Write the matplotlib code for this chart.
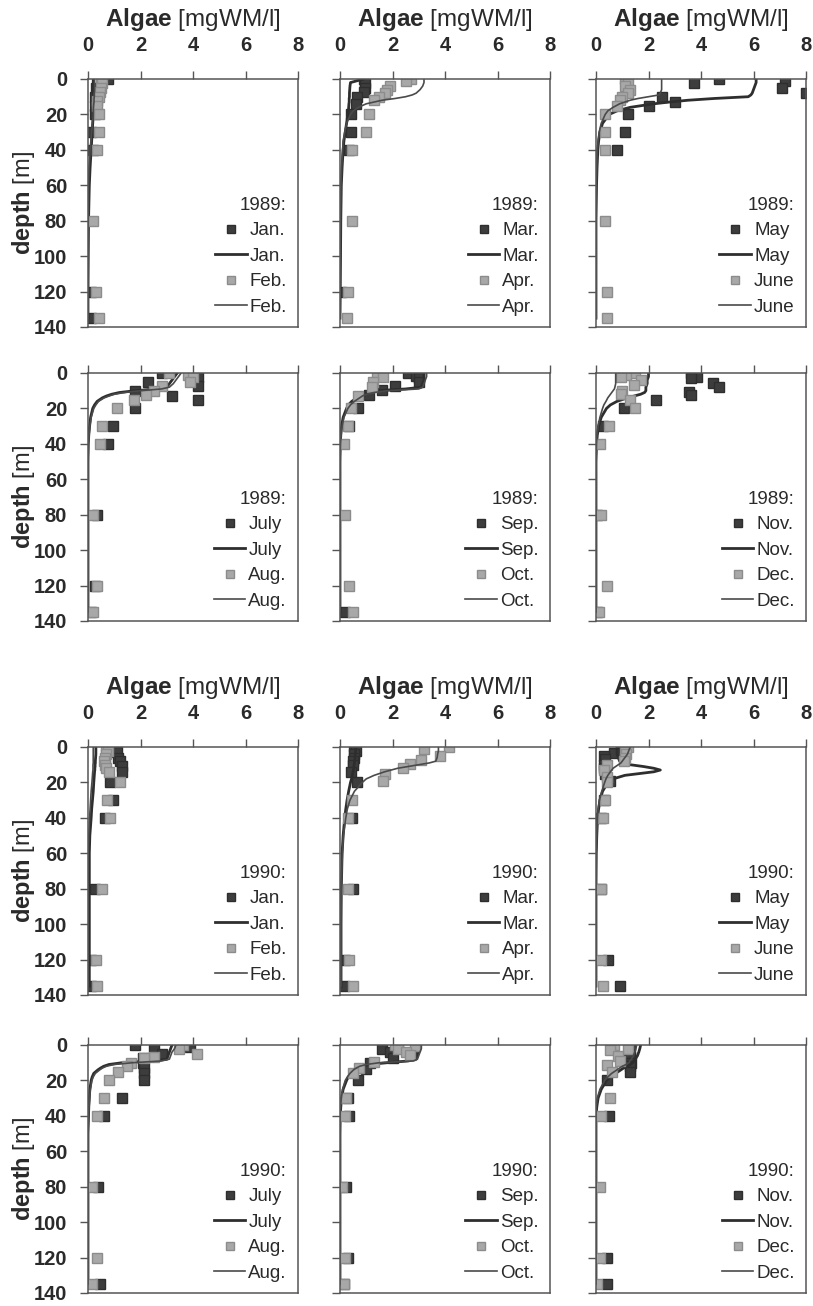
import numpy as np
import matplotlib.pyplot as plt

plt.rcParams['font.family'] = ['Liberation Sans', 'DejaVu Sans']
plt.rcParams['mathtext.fontset'] = 'custom'
plt.rcParams['mathtext.bf'] = 'Liberation Sans:bold'
plt.rcParams['mathtext.rm'] = 'Liberation Sans'

# depth grid of the model profiles (m)
model_depth = [0, 2, 4, 6, 8, 9, 10, 11, 12, 13, 14, 16, 18, 20, 25, 30, 35, 40, 50, 60, 80, 100, 120, 135]

# ---- 1989 ----
jan89_d = [0, 5, 10, 15, 20, 30, 40, 120, 135]
jan89_x = [0.75, 0.3, 0.25, 0.25, 0.25, 0.1, 0.2, 0.1, 0.1]
jan89_m = [0.2, 0.2, 0.2, 0.2, 0.2, 0.2, 0.2, 0.2, 0.2, 0.2, 0.2, 0.2, 0.2, 0.2, 0.18, 0.16, 0.14, 0.12, 0.08, 0.05, 0.02, 0.01, 0, 0]
feb89_d = [0, 2.5, 5, 7.5, 10, 12.5, 15, 20, 30, 40, 80, 120, 135]
feb89_x = [0.5, 0.55, 0.5, 0.45, 0.4, 0.35, 0.35, 0.4, 0.4, 0.35, 0.2, 0.3, 0.4]
feb89_m = [0.25, 0.25, 0.25, 0.25, 0.24, 0.24, 0.24, 0.23, 0.23, 0.23, 0.22, 0.21, 0.2, 0.2, 0.17, 0.14, 0.11, 0.08, 0.04, 0.02, 0.01, 0, 0, 0]

mar89_d = [0, 2.5, 5, 7.5, 10, 14, 20, 30, 40, 120]
mar89_x = [0.9, 0.95, 0.95, 0.9, 0.65, 0.6, 0.4, 0.4, 0.35, 0.05]
mar89_m = [0.9, 0.4, 0.38, 0.37, 0.36, 0.36, 0.36, 0.35, 0.35, 0.35, 0.34, 0.33, 0.32, 0.3, 0.25, 0.2, 0.15, 0.12, 0.08, 0.05, 0.03, 0.02, 0.01, 0]
apr89_d = [0, 1, 4, 6, 8, 10, 12, 20, 30, 40, 80, 120, 135]
apr89_x = [2.7, 2.5, 1.9, 1.8, 1.7, 1.5, 1.3, 1.1, 1.0, 0.45, 0.45, 0.3, 0.25]
apr89_m = [3.2, 3.2, 3.15, 3.05, 2.9, 2.75, 2.5, 2.1, 1.6, 1.3, 1.0, 0.7, 0.5, 0.4, 0.25, 0.18, 0.12, 0.1, 0.06, 0.04, 0.02, 0.01, 0, 0]

may89_d = [0, 1, 2.5, 5, 8, 10, 13, 15, 20, 30, 40]
may89_x = [4.7, 7.2, 3.75, 7.1, 8.0, 2.5, 3.0, 2.0, 1.2, 1.1, 0.8]
may89_m = [6.1, 6.1, 6.05, 6.0, 5.95, 5.9, 5.8, 4.5, 3.5, 2.8, 2.2, 1.3, 0.8, 0.5, 0.25, 0.15, 0.1, 0.07, 0.04, 0.02, 0, 0, 0, 0]
jun89_d = [0, 2, 4, 6, 8, 10, 12, 15, 20, 30, 40, 80, 120, 135]
jun89_x = [1.1, 1.2, 1.1, 1.3, 1.2, 1.0, 0.9, 0.8, 0.35, 0.35, 0.35, 0.35, 0.4, 0.4]
jun89_m = [2.5, 2.5, 2.5, 2.5, 2.45, 2.4, 2.0, 1.6, 1.3, 1.1, 0.9, 0.65, 0.45, 0.35, 0.2, 0.12, 0.08, 0.05, 0.03, 0.01, 0, 0, 0, 0]

jul89_d = [0, 2.5, 5, 7.5, 10, 13, 15, 20, 30, 40, 80, 120, 135]
jul89_x = [2.8, 4.2, 2.3, 4.2, 1.8, 3.2, 4.2, 1.8, 0.95, 0.75, 0.35, 0.25, 0.1]
jul89_m = [3.4, 3.3, 3.2, 3.1, 3.0, 2.6, 1.8, 1.2, 0.9, 0.7, 0.55, 0.35, 0.25, 0.18, 0.1, 0.06, 0.03, 0.01, 0, 0, 0, 0, 0, 0]
aug89_d = [0, 1, 2.5, 5, 7.5, 10, 12.5, 15, 20, 30, 40, 80, 120, 135]
aug89_x = [3.1, 3.8, 4.0, 3.9, 2.8, 2.5, 2.2, 1.75, 1.1, 0.55, 0.45, 0.2, 0.35, 0.2]
aug89_m = [3.55, 3.45, 3.35, 3.25, 3.1, 2.8, 2.0, 1.4, 1.0, 0.8, 0.62, 0.4, 0.3, 0.22, 0.12, 0.07, 0.04, 0.02, 0, 0, 0, 0, 0, 0]

sep89_d = [0, 1.5, 3, 5, 7.5, 9.5, 12.5, 20, 30, 135]
sep89_x = [2.6, 2.9, 3.0, 3.0, 2.1, 1.6, 1.1, 0.7, 0.35, 0.2]
sep89_m = [3.2, 3.2, 3.2, 3.15, 3.1, 2.5, 1.4, 1.1, 0.9, 0.75, 0.65, 0.45, 0.32, 0.25, 0.12, 0.06, 0.03, 0.01, 0, 0, 0, 0, 0, 0]
oct89_d = [0, 2, 5, 8, 13, 20, 30, 40, 80, 120, 135]
oct89_x = [1.4, 1.65, 1.25, 1.2, 0.7, 0.4, 0.3, 0.15, 0.2, 0.35, 0.5]
oct89_m = [3.3, 3.3, 3.25, 3.2, 3.15, 3.0, 1.8, 1.3, 1.0, 0.85, 0.75, 0.55, 0.4, 0.3, 0.15, 0.08, 0.04, 0.02, 0, 0, 0, 0, 0, 0]

nov89_d = [0, 2, 3, 5.5, 8, 10.5, 12.5, 15, 19.5, 30, 80, 135]
nov89_x = [3.6, 3.85, 3.6, 4.45, 4.7, 3.55, 3.6, 2.3, 1.05, 0.25, 0.05, 0.05]
nov89_m = [2.0, 2.0, 1.95, 1.95, 1.9, 1.9, 1.9, 1.85, 1.7, 1.45, 1.2, 0.8, 0.55, 0.4, 0.2, 0.1, 0.05, 0.02, 0, 0, 0, 0, 0, 0]
dec89_d = [0, 1, 2, 4, 7, 10, 12, 15, 19.5, 30, 40, 80, 120, 135]
dec89_x = [1.5, 1.15, 0.95, 1.7, 1.45, 1.0, 0.95, 1.3, 1.5, 0.5, 0.15, 0.2, 0.4, 0.1]
dec89_m = [0.75, 0.75, 0.75, 0.75, 0.72, 0.7, 0.65, 0.6, 0.55, 0.5, 0.45, 0.38, 0.3, 0.25, 0.15, 0.08, 0.04, 0.02, 0, 0, 0, 0, 0, 0]

# ---- 1990 ----
jan90_d = [3, 6, 8, 11, 14, 20, 30, 40, 80, 120, 135]
jan90_x = [1.1, 1.15, 1.2, 1.3, 1.3, 0.85, 0.95, 0.65, 0.25, 0.1, 0.1]
jan90_m = [0.3, 0.3, 0.3, 0.29, 0.28, 0.28, 0.27, 0.27, 0.26, 0.26, 0.25, 0.24, 0.23, 0.22, 0.2, 0.17, 0.14, 0.12, 0.07, 0.05, 0.05, 0.05, 0.05, 0.05]
feb90_d = [0, 2, 4, 6, 8, 10, 12, 14, 20, 30, 40, 80, 120, 135]
feb90_x = [0.7, 0.75, 0.7, 0.65, 0.6, 0.65, 0.7, 0.8, 1.2, 0.72, 0.85, 0.55, 0.3, 0.35]
feb90_m = [0.2, 0.2, 0.2, 0.2, 0.2, 0.2, 0.19, 0.19, 0.19, 0.19, 0.18, 0.17, 0.16, 0.15, 0.12, 0.1, 0.08, 0.06, 0.03, 0.01, 0, 0, 0, 0]

mar90_d = [0, 2, 4, 6, 8, 10, 14, 20, 40, 80, 120, 135]
mar90_x = [0.55, 0.6, 0.55, 0.55, 0.5, 0.5, 0.4, 0.65, 0.45, 0.5, 0.2, 0.15]
mar90_m = [0.6, 0.6, 0.58, 0.57, 0.56, 0.55, 0.54, 0.53, 0.52, 0.51, 0.5, 0.47, 0.44, 0.4, 0.33, 0.27, 0.22, 0.18, 0.12, 0.08, 0.05, 0.04, 0.04, 0.04]
apr90_d = [0, 1, 5, 7.5, 9.5, 12, 15.5, 19, 30, 40, 80, 120, 135]
apr90_x = [4.15, 3.2, 3.8, 3.1, 2.65, 2.4, 1.7, 1.65, 0.45, 0.3, 0.3, 0.35, 0.5]
apr90_m = [3.75, 3.75, 3.72, 3.7, 3.65, 3.4, 3.0, 2.6, 2.2, 1.95, 1.7, 1.3, 1.0, 0.85, 0.55, 0.38, 0.28, 0.22, 0.13, 0.09, 0.05, 0.04, 0.04, 0.04]

may90_d = [2, 3.5, 5, 7, 10, 12, 15, 19, 30, 40, 80, 120, 135]
may90_x = [1.0, 0.7, 0.3, 0.35, 0.3, 0.3, 0.35, 0.55, 0.3, 0.2, 0.2, 0.45, 0.9]
may90_m = [0.8, 0.8, 0.8, 0.85, 0.9, 1.0, 1.3, 1.8, 2.2, 2.45, 2.2, 1.1, 0.65, 0.45, 0.25, 0.15, 0.1, 0.06, 0.03, 0.01, 0, 0, 0, 0]
jun90_d = [0, 2, 4, 6, 8, 10, 13, 17, 20, 30, 40, 80, 120, 135]
jun90_x = [1.2, 1.1, 1.15, 1.1, 1.05, 0.4, 0.3, 0.4, 0.4, 0.35, 0.25, 0.2, 0.2, 0.25]
jun90_m = [1.3, 1.25, 1.2, 1.1, 1.0, 0.95, 0.85, 0.75, 0.65, 0.6, 0.55, 0.45, 0.38, 0.33, 0.22, 0.13, 0.08, 0.05, 0.03, 0.01, 0, 0, 0, 0]

jul90_d = [0, 1, 2.5, 5, 7.5, 10, 13, 16, 20, 30, 40, 80, 135]
jul90_x = [1.8, 3.9, 2.5, 2.8, 2.1, 2.1, 2.15, 2.15, 2.15, 1.3, 0.6, 0.38, 0.45]
jul90_m = [3.2, 3.15, 3.1, 3.05, 3.0, 2.5, 1.3, 0.8, 0.6, 0.48, 0.38, 0.22, 0.16, 0.12, 0.07, 0.05, 0.03, 0.02, 0, 0, 0, 0, 0, 0]
aug90_d = [0, 2.5, 5, 6.5, 7.5, 10, 12, 15, 20, 30, 40, 80, 120, 135]
aug90_x = [3.6, 3.45, 4.15, 2.5, 2.15, 1.65, 1.5, 1.15, 0.8, 0.6, 0.35, 0.17, 0.35, 0.15]
aug90_m = [3.35, 3.3, 3.2, 3.15, 3.1, 2.8, 1.7, 1.0, 0.7, 0.55, 0.45, 0.28, 0.2, 0.15, 0.09, 0.06, 0.04, 0.02, 0, 0, 0, 0, 0, 0]

sep90_d = [1, 2.3, 4, 5, 7.5, 10, 13.5, 20, 30, 40, 80, 120, 135]
sep90_x = [2.2, 1.6, 1.9, 2.7, 2.0, 1.15, 1.0, 0.7, 0.32, 0.34, 0.22, 0.3, 0.17]
sep90_m = [3.05, 3.0, 3.0, 2.95, 2.9, 2.6, 1.8, 1.1, 0.85, 0.7, 0.6, 0.42, 0.32, 0.25, 0.12, 0.06, 0.03, 0.01, 0, 0, 0, 0, 0, 0]
oct90_d = [0, 0.5, 2, 4, 5.7, 9.8, 13.2, 15.7, 30, 40, 80, 120, 135]
oct90_x = [2.1, 2.85, 2.2, 2.5, 2.65, 1.3, 0.72, 0.5, 0.22, 0.19, 0.06, 0.2, 0.15]
oct90_m = [3.1, 3.1, 3.05, 3.0, 2.95, 2.8, 1.5, 1.0, 0.75, 0.62, 0.52, 0.38, 0.28, 0.2, 0.1, 0.05, 0.02, 0, 0, 0, 0, 0, 0, 0]

nov90_d = [0, 3, 5, 7, 10, 12, 15, 20, 40, 120, 135]
nov90_x = [1.3, 1.3, 1.25, 1.3, 1.35, 1.3, 1.3, 0.4, 0.5, 0.4, 0.4]
nov90_m = [1.7, 1.67, 1.63, 1.58, 1.5, 1.45, 1.4, 1.3, 1.2, 1.05, 0.95, 0.75, 0.55, 0.4, 0.2, 0.08, 0.03, 0, 0, 0, 0, 0, 0, 0]
dec90_d = [0, 2, 3, 6, 9, 11.5, 15.5, 30, 40, 80, 120, 135]
dec90_x = [0.7, 1.2, 0.55, 0.85, 0.9, 0.4, 0.6, 0.55, 0.2, 0.16, 0.16, 0.05]
dec90_m = [1.55, 1.52, 1.48, 1.42, 1.35, 1.3, 1.25, 1.15, 1.0, 0.9, 0.8, 0.6, 0.45, 0.33, 0.15, 0.05, 0.01, 0, 0, 0, 0, 0, 0, 0]

# panel layout: (year, month pair) for each of the 4 rows x 3 columns
panels = [
    ['1989:', ('Jan.', jan89_d, jan89_x, jan89_m), ('Feb.', feb89_d, feb89_x, feb89_m)],
    ['1989:', ('Mar.', mar89_d, mar89_x, mar89_m), ('Apr.', apr89_d, apr89_x, apr89_m)],
    ['1989:', ('May', may89_d, may89_x, may89_m), ('June', jun89_d, jun89_x, jun89_m)],
    ['1989:', ('July', jul89_d, jul89_x, jul89_m), ('Aug.', aug89_d, aug89_x, aug89_m)],
    ['1989:', ('Sep.', sep89_d, sep89_x, sep89_m), ('Oct.', oct89_d, oct89_x, oct89_m)],
    ['1989:', ('Nov.', nov89_d, nov89_x, nov89_m), ('Dec.', dec89_d, dec89_x, dec89_m)],
    ['1990:', ('Jan.', jan90_d, jan90_x, jan90_m), ('Feb.', feb90_d, feb90_x, feb90_m)],
    ['1990:', ('Mar.', mar90_d, mar90_x, mar90_m), ('Apr.', apr90_d, apr90_x, apr90_m)],
    ['1990:', ('May', may90_d, may90_x, may90_m), ('June', jun90_d, jun90_x, jun90_m)],
    ['1990:', ('July', jul90_d, jul90_x, jul90_m), ('Aug.', aug90_d, aug90_x, aug90_m)],
    ['1990:', ('Sep.', sep90_d, sep90_x, sep90_m), ('Oct.', oct90_d, oct90_x, oct90_m)],
    ['1990:', ('Nov.', nov90_d, nov90_x, nov90_m), ('Dec.', dec90_d, dec90_x, dec90_m)],
]

W, H = 813, 1306
col_left = [88, 340, 596]
row_top = [79, 373, 747, 1045]
ax_w, ax_h = 210, 248

text_col = '#2a2a2a'
frame_col = '#555555'
dark = '#3d3d3d'
light = '#a8a8a8'

fig = plt.figure(figsize=(W / 100, H / 100), dpi=100)

for i, (year, first, second) in enumerate(panels):
    row, col = divmod(i, 3)
    ax = fig.add_axes([col_left[col] / W, 1 - (row_top[row] + ax_h) / H, ax_w / W, ax_h / H])

    lab, d, x, m = first
    ax.plot(x, d, 's', color=dark, mec='#2e2e2e', ms=6.5, label=lab)
    ax.plot(m, model_depth, '-', color='#2e2e2e', lw=2.0, label=lab)
    lab, d, x, m = second
    ax.plot(x, d, 's', color=light, mec='#8c8c8c', ms=6.5, label=lab)
    ax.plot(m, model_depth, '-', color='#4a4a4a', lw=1.2, label=lab)

    ax.set_xlim(0, 8)
    ax.set_ylim(140, 0)
    ax.set_xticks([0, 2, 4, 6, 8])
    ax.set_yticks(np.arange(0, 141, 20))
    ax.xaxis.tick_top()
    ax.tick_params(axis='both', direction='out', length=6, width=1, color=frame_col,
                   labelsize=14.5, labelcolor=text_col)
    ax.tick_params(axis='x', pad=11)
    ax.tick_params(axis='y', pad=9)
    for s in ax.spines.values():
        s.set_color(frame_col)
        s.set_linewidth(1.1)

    if row in (0, 2):
        for t in ax.get_xticklabels():
            t.set_fontweight('bold')
        ax.text(0.5, 1.215, r'$\bf{Algae}$ [mgWM/l]', transform=ax.transAxes,
                ha='center', va='baseline', fontsize=17.5, color=text_col)
    else:
        ax.set_xticklabels([])

    if col == 0:
        for t in ax.get_yticklabels():
            t.set_fontweight('bold')
        ax.set_ylabel(r'$\bf{depth}$ [m]', fontsize=17, color=text_col)
        ax.yaxis.set_label_coords(-0.245, 0.5)
    else:
        ax.set_yticklabels([])

    leg = ax.legend(loc='lower right', frameon=False, title=year, fontsize=13.5,
                    title_fontsize=13.5, alignment='right', handlelength=1.7,
                    handletextpad=0.15, labelspacing=0.45, markerscale=0.85,
                    borderaxespad=0.2)
    for t in leg.get_texts():
        t.set_color(text_col)
    leg.get_title().set_color(text_col)

fig.savefig('out.png', dpi=100, facecolor='white')
